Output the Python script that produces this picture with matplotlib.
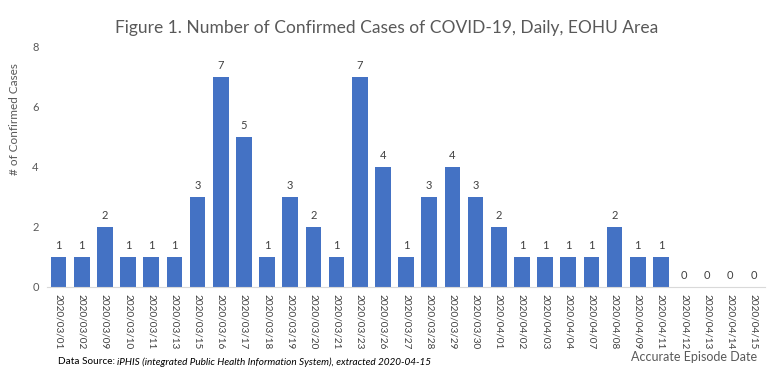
import matplotlib.pyplot as plt
import numpy as np

plt.rcParams['font.family'] = ['Lato', 'DejaVu Sans']

# daily confirmed cases by accurate episode date
dates = ['2020/03/01', '2020/03/02', '2020/03/09', '2020/03/10', '2020/03/11',
         '2020/03/13', '2020/03/15', '2020/03/16', '2020/03/17', '2020/03/18',
         '2020/03/19', '2020/03/20', '2020/03/21', '2020/03/23', '2020/03/26',
         '2020/03/27', '2020/03/28', '2020/03/29', '2020/03/30', '2020/04/01',
         '2020/04/02', '2020/04/03', '2020/04/04', '2020/04/07', '2020/04/08',
         '2020/04/09', '2020/04/11', '2020/04/12', '2020/04/13', '2020/04/14',
         '2020/04/15']
cases = [1, 1, 2, 1, 1, 1, 3, 7, 5, 1, 3, 2, 1, 7, 4, 1, 3, 4, 3, 2,
         1, 1, 1, 1, 2, 1, 1, 0, 0, 0, 0]
yticks = [0, 2, 4, 6, 8]

txt = '#404040'
fig = plt.figure(figsize=(7.73, 3.72), dpi=100)
ax = fig.add_axes([0.0608, 0.2285, 0.929, 0.6452])

x = np.arange(len(dates))
bars = ax.bar(x, cases, width=0.68, color='#4472C4', zorder=2)
for xi, v in zip(x, cases):
    ax.text(xi, v + 0.2, str(v), ha='center', va='bottom', fontsize=8, color=txt)

ax.set_xlim(-0.5, len(dates) - 0.5)
ax.set_ylim(0, 8)
ax.set_yticks(yticks)
ax.set_xticks(x)
ax.set_xticklabels(dates, rotation=-90, fontsize=7.2, color=txt)
ax.tick_params(axis='y', length=0, labelsize=8, labelcolor='#595959', pad=6)
ax.tick_params(axis='x', length=0, pad=5)
for s in ['top', 'right', 'left']:
    ax.spines[s].set_visible(False)
ax.spines['bottom'].set_color('#D9D9D9')

ax.set_ylabel('# of Confirmed Cases', fontsize=8.5, color='#595959')
ax.yaxis.set_label_coords(-0.038, 0.7)

fig.text(0.5, 0.925, 'Figure 1. Number of Confirmed Cases of COVID-19, Daily, EOHU Area',
         ha='center', va='center', fontsize=12.5, color='#595959')
fig.text(0.98, 0.04, 'Accurate Episode Date', ha='right', va='center',
         fontsize=9, color='#595959')

# footer: plain prefix followed by italic source name
t1 = fig.text(0.075, 0.027, 'Data Source: ', ha='left', va='center', fontsize=7.2, color='black')
fig.canvas.draw()
bb = t1.get_window_extent(fig.canvas.get_renderer()).transformed(fig.transFigure.inverted())
fig.text(bb.x1, 0.027, 'iPHIS (integrated Public Health Information System), extracted 2020-04-15',
         ha='left', va='center', fontsize=7.2, color='black', style='italic')

fig.savefig('out.png', dpi=100)
